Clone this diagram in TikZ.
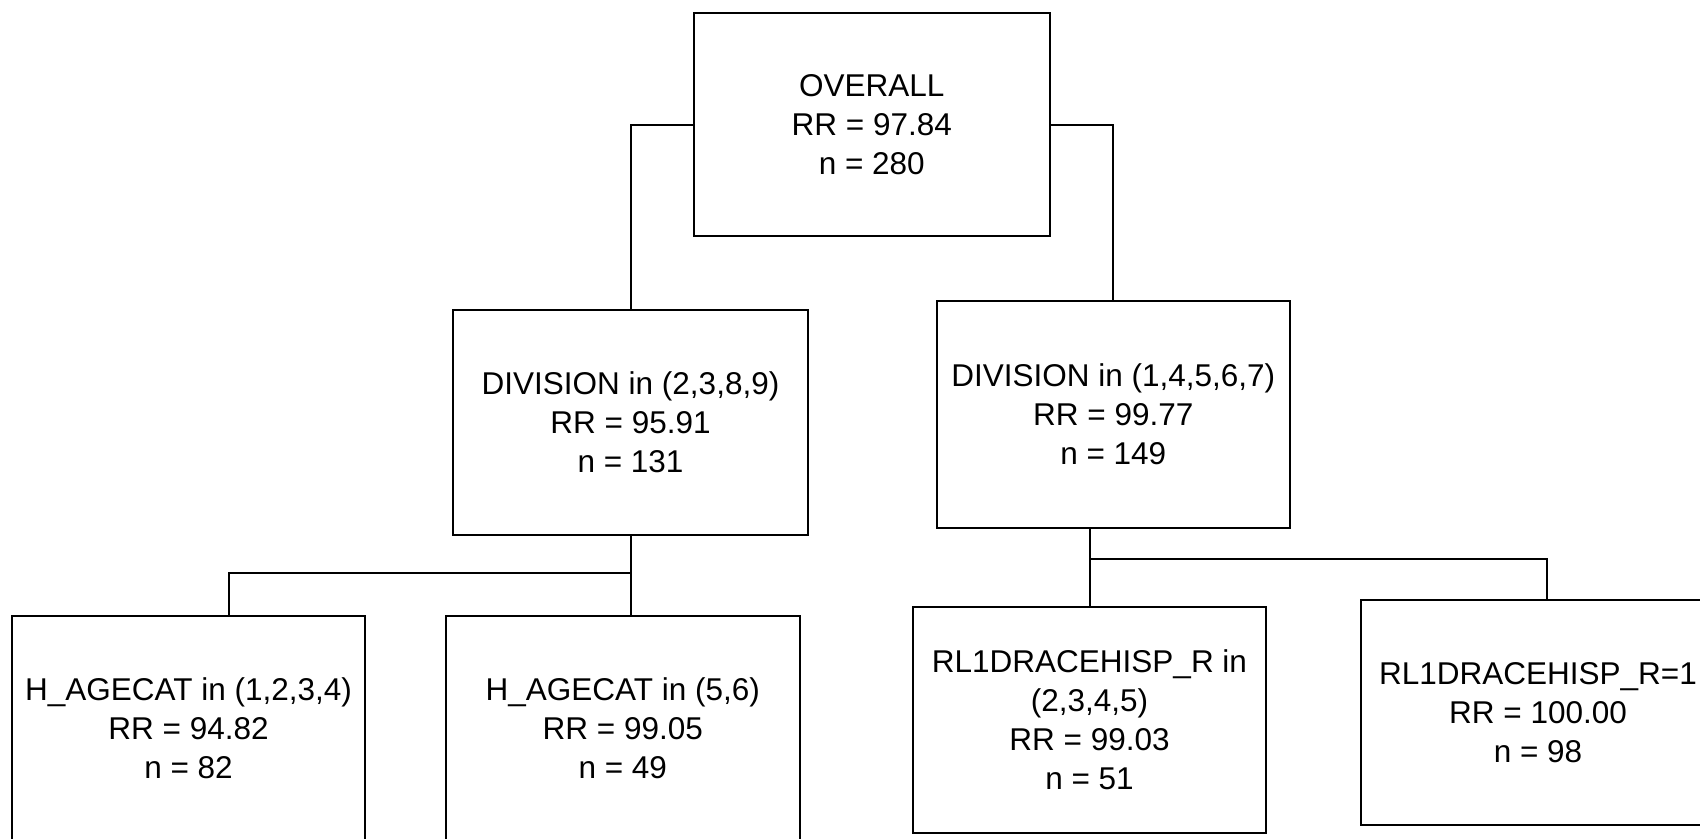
\documentclass[tikz,border=0pt]{standalone}
\usepackage{fontspec}
\setmainfont{Liberation Sans}
\tikzset{
  treebox/.style={draw=black, line width=2pt, align=center, inner sep=0pt,
    font=\fontsize{31.5pt}{39pt}\selectfont, text=black},
  link/.style={draw=black, line width=2pt}
}
\begin{document}
\begin{tikzpicture}[x=1pt,y=-1pt]
\useasboundingbox (0,0) rectangle (1700,838);
\fill[white] (0,0) rectangle (1700,838);
% nodes
\node[treebox, minimum width=355.5pt, minimum height=223pt] (overall) at (871.75,124.5)
  {OVERALL\\RR = 97.84\\n = 280};
\node[treebox, minimum width=355pt, minimum height=224.5pt] (div1) at (630.5,422.25)
  {DIVISION in (2,3,8,9)\\RR = 95.91\\n = 131};
\node[treebox, minimum width=353.3pt, minimum height=226.6pt] (div2) at (1113.3,414.7)
  {DIVISION in (1,4,5,6,7)\\RR = 99.77\\n = 149};
\node[treebox, minimum width=353pt, minimum height=224pt] (h1) at (188.5,728)
  {H\_AGECAT in (1,2,3,4)\\RR = 94.82\\n = 82};
\node[treebox, minimum width=354.4pt, minimum height=224pt] (h2) at (622.8,728)
  {H\_AGECAT in (5,6)\\RR = 99.05\\n = 49};
\node[treebox, minimum width=353pt, minimum height=225.6pt] (rl1) at (1089.5,719.8)
  {RL1DRACEHISP\_R in\\(2,3,4,5)\\RR = 99.03\\n = 51};
\node[treebox, minimum width=355pt, minimum height=225.4pt] (rl2) at (1538,712.3)
  {RL1DRACEHISP\_R=1\\RR = 100.00\\n = 98};
% junction coordinates
\coordinate (j1) at (630,572.5);
\coordinate (j2) at (1089.5,559.4);
% connectors
\draw[link] (overall.west) -| (div1.north);
\draw[link] (overall.east) -| (div2.north);
\draw[link] (div1.south) -- (h2.north -| div1.south);
\draw[link] (j1) -| ([xshift=40.5pt]h1.north);
\draw[link] (rl1.north |- div2.south) -- (rl1.north);
\draw[link] (j2) -| ([xshift=9pt]rl2.north);
\end{tikzpicture}
\end{document}
